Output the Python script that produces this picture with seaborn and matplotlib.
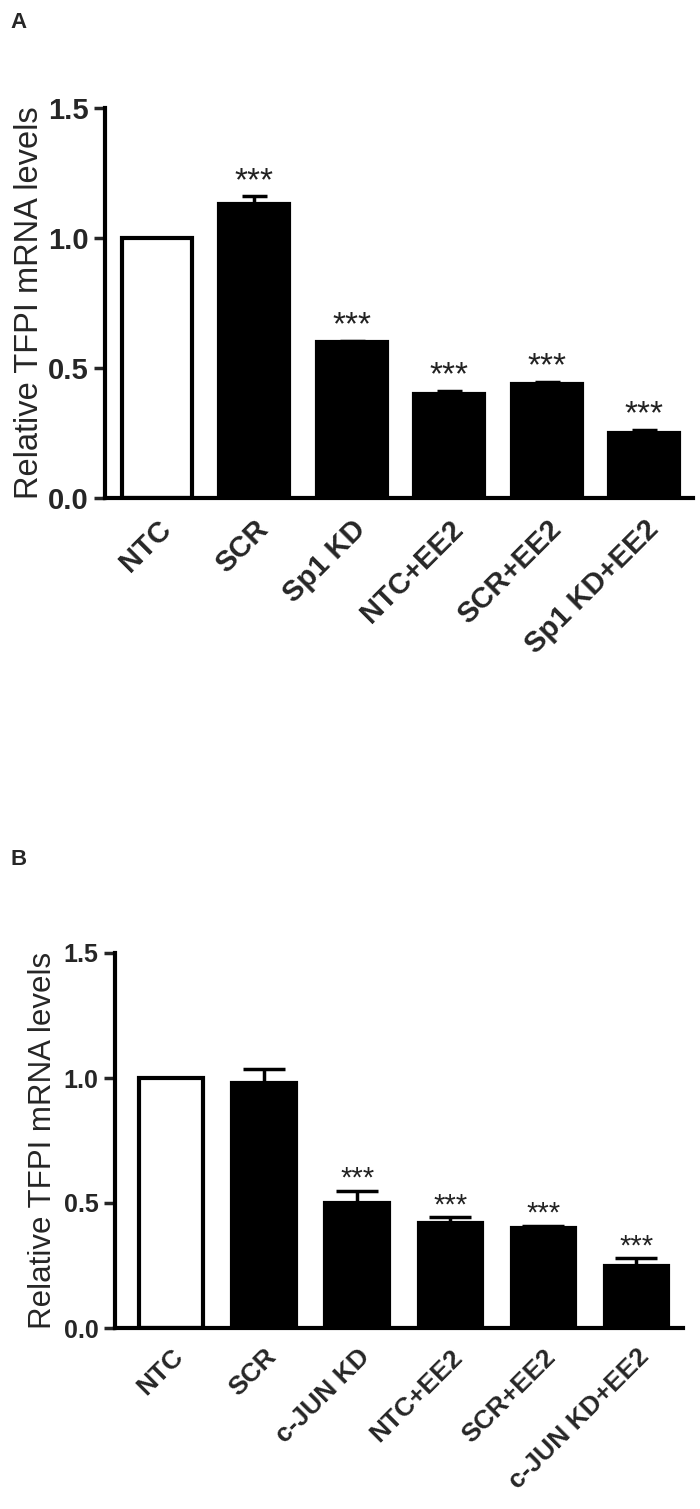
import matplotlib
matplotlib.use("Agg")
import matplotlib.pyplot as plt
import seaborn as sns
import numpy as np
import pandas as pd

# ---- data ----
cats_a = ["NTC", "SCR", "Sp1 KD", "NTC+EE2", "SCR+EE2", "Sp1 KD+EE2"]
vals_a = [1.00, 1.13, 0.60, 0.40, 0.44, 0.25]
errs_a = [0.00, 0.03, 0.005, 0.012, 0.008, 0.012]
sig_a = ["", "***", "***", "***", "***", "***"]

cats_b = ["NTC", "SCR", "c-JUN KD", "NTC+EE2", "SCR+EE2", "c-JUN KD+EE2"]
vals_b = [1.00, 0.98, 0.50, 0.42, 0.40, 0.25]
errs_b = [0.00, 0.055, 0.05, 0.025, 0.01, 0.03]
sig_b = ["", "", "***", "***", "***", "***"]

yticks = [0.0, 0.5, 1.0, 1.5]
ylabel = "Relative TFPI mRNA levels"

sns.set_theme(style="ticks")
plt.rcParams['font.family'] = ['Liberation Sans', 'DejaVu Sans']

fig = plt.figure(figsize=(7.0, 15.09), dpi=100)

def panel(rect, cats, vals, errs, sig, width, xlim, tick_fs, xtick_fs, lab_fs, star_fs,
          star_off, capsize, labelpad, xpad):
    ax = fig.add_axes(rect)
    df = pd.DataFrame({"cat": cats, "val": vals})
    colors = ["white"] + ["black"] * (len(cats) - 1)
    sns.barplot(data=df, x="cat", y="val", hue="cat", palette=colors, legend=False,
                width=width, edgecolor="black", linewidth=3.0, ax=ax, saturation=1)
    x = np.arange(len(cats))
    for i in range(len(cats)):
        if errs[i] > 0:
            ax.errorbar(x[i], vals[i], yerr=[[0], [errs[i]]], fmt="none", ecolor="black",
                        elinewidth=2.5, capsize=capsize, capthick=2.5, zorder=3)
        if sig[i]:
            ax.annotate(sig[i], (x[i], vals[i] + errs[i]), xytext=(0, star_off),
                        textcoords="offset points", ha="center", va="baseline",
                        fontsize=star_fs, color="#222222")
    ax.set_ylim(0, 1.5)
    ax.set_xlim(*xlim)
    ax.set_yticks(yticks)
    ax.set_yticklabels([f"{t:.1f}" for t in yticks], fontsize=tick_fs, fontweight="bold")
    ax.set_xticks(x)
    ax.set_xticklabels(cats, rotation=45, ha="right", rotation_mode="anchor",
                       fontsize=xtick_fs, fontweight="bold")
    ax.tick_params(axis="x", length=0, pad=xpad)
    ax.tick_params(axis="y", length=8, width=2.5, direction="out", pad=4)
    ax.set_xlabel("")
    ax.set_ylabel(ylabel, fontsize=lab_fs, labelpad=labelpad)
    sns.despine(ax=ax)
    for s in ["left", "bottom"]:
        ax.spines[s].set_linewidth(3.0)
        ax.spines[s].set_color("black")
    ax.set_facecolor("white")
    return ax

panel([105/700, 1 - 498/1509, 588/700, 390/1509], cats_a, vals_a, errs_a, sig_a,
      0.72, (-0.53, 5.5), 21, 21, 23.5, 24, 4.5, 9, 2, 12)
panel([115/700, 1 - 1328/1509, 568/700, 375/1509], cats_b, vals_b, errs_b, sig_b,
      0.68, (-0.6, 5.5), 18, 19, 22.5, 21, 2.5, 15, 4, 12)

fig.text(10/700, 1 - 22/1509, "A", fontsize=16, fontweight="bold", va="center", ha="left")
fig.text(10/700, 1 - 860/1509, "B", fontsize=16, fontweight="bold", va="center", ha="left")

fig.savefig("out.png", dpi=100, facecolor="white")
